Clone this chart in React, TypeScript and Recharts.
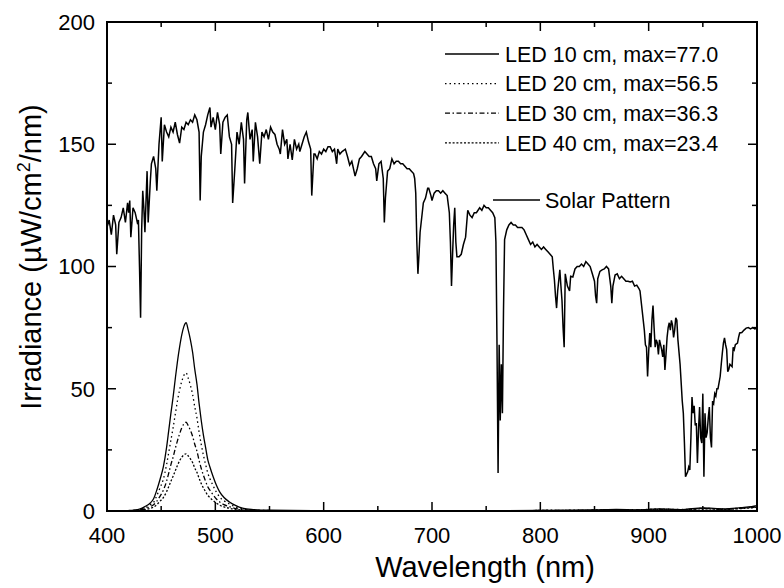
import { LineChart, Line, XAxis, YAxis } from "recharts";

// solar irradiance [wavelength nm, µW/cm²/nm]
const solarSpectrum: [number, number][] = [
  [400, 116], [402, 119], [404, 113], [406, 121], [408, 117], [409, 105], [411, 118], [413, 120], [415, 124], [417, 118],
  [419, 126], [420, 122], [421, 127], [422, 112], [424, 124], [426, 122], [428, 118], [429, 119], [430, 100], [431, 79],
  [432, 115], [433, 131], [434, 124], [435, 114], [437, 139], [438, 118], [440, 135], [441, 142], [443, 145], [445, 140],
  [446, 131], [448, 150], [450, 161], [451, 143], [453, 158], [455, 155], [457, 153], [459, 157], [461, 155], [463, 159],
  [465, 154], [467, 150.5], [469, 157], [471, 156], [473, 159], [475, 158], [477, 160], [479, 159], [481, 162], [483, 160],
  [485, 155], [486, 127], [487, 145], [489, 155], [491, 158], [493, 162], [495, 165], [496, 157], [498, 161], [500, 156],
  [502, 163], [504, 158], [505, 146], [507, 159], [509, 161], [511, 162], [513, 153], [515, 150], [516, 126], [518, 140],
  [520, 155], [522, 150], [524, 159], [526, 152], [527, 134], [529, 160], [530, 163], [532, 152], [534, 156], [535, 143],
  [537, 159], [539, 153], [541, 142], [543, 155], [545, 153], [547, 156], [549, 152], [551, 157], [553, 155], [555, 154],
  [557, 150], [559, 148], [560, 146], [562, 156], [564, 150], [566, 152], [567, 144], [569, 150], [571, 143.6], [573, 152],
  [575, 148], [577, 150], [578, 147], [580, 150], [582, 153], [584, 155], [586, 151], [588, 148], [589, 129], [591, 146],
  [592, 146], [594, 144], [596, 147], [598, 146], [600, 148], [602, 147], [604, 149], [606, 149], [608, 147], [610, 148],
  [612, 142], [613, 148], [615, 146], [617, 147], [620, 148], [622, 145], [624, 141.5], [626, 143], [628, 139], [629, 137],
  [631, 140], [633, 144], [635, 145], [638, 147], [640, 146], [642, 145], [644, 145], [646, 142], [648, 140], [649, 135],
  [651, 142], [653, 143], [655, 136], [656, 118], [657, 128], [659, 139], [661, 140], [663, 144], [665, 142], [667, 143],
  [669, 143], [671, 142], [673, 142], [675, 141], [677, 140], [679, 140], [681, 139], [683, 138], [684, 136], [685, 130],
  [686, 110], [687, 97], [688, 105], [689, 114], [691, 122], [692, 126], [694, 128], [696, 132], [697, 132], [699, 129],
  [700, 127], [702, 130], [704, 131], [706, 131], [708, 130], [710, 131], [712, 130], [714, 129], [716, 122], [717, 110],
  [718, 92], [719, 105], [720, 117], [721, 124], [722, 110], [723, 104], [725, 104], [727, 105], [729, 109], [731, 112],
  [733, 123], [735, 121], [737, 120], [739, 122], [741, 122], [744, 124], [746, 123], [748, 125], [750, 124], [752, 124],
  [754, 123], [756, 122], [758, 120], [759, 110], [760, 68], [761, 15.5], [762, 68], [763, 37], [764, 60], [765, 40],
  [766, 82], [767, 111], [769, 115], [771, 117], [773, 118], [775, 117], [777, 117], [779, 116], [781, 116], [783, 116],
  [785, 115], [787, 113], [789, 111], [791, 109], [793, 110], [795, 108], [797, 109], [799, 108], [801, 107], [803, 108],
  [805, 107], [807, 106], [809, 105], [811, 104], [812, 99], [813, 94.5], [814, 88], [815, 83], [816, 90], [818, 98.6],
  [819, 92], [820, 86], [821, 75], [822, 67], [823, 97], [825, 92], [827, 90], [828, 96], [830, 95.7], [832, 99],
  [834, 100], [836, 100], [838, 101], [840, 100], [842, 102], [844, 101], [846, 100], [848, 97], [850, 94], [851, 88],
  [852, 85], [853, 95], [855, 98], [857, 98.6], [859, 99], [861, 100], [863, 99], [865, 92], [866, 85], [867, 92],
  [869, 96.5], [871, 97], [873, 95], [875, 96], [877, 95], [879, 94], [881, 94], [883, 93.7], [885, 94], [887, 92],
  [889, 92.4], [891, 91], [892, 90], [894, 82], [896, 74], [897, 68], [898, 67], [899, 55], [900, 65], [901, 72.8],
  [902, 67], [903, 78], [904, 84], [905, 75], [906, 67], [907, 70], [908, 68.7], [909, 64], [910, 70], [912, 66],
  [913, 63], [914, 68], [915, 57.7], [916, 64], [917, 71], [918, 75], [919, 77], [920, 74], [921, 78], [922, 76],
  [923, 71], [924, 74], [925, 79], [926, 78], [927, 70], [929, 60], [931, 45], [932, 40], [933, 28], [934, 14],
  [936, 16], [937, 18], [938, 16.8], [939, 30], [940, 46.6], [941, 40], [942, 43], [943, 35], [944, 36], [945, 19.6],
  [946, 33], [947, 42.5], [948, 30], [949, 27.8], [950, 48], [951, 14], [952, 40], [953, 30], [954, 32], [955, 38],
  [956, 42.5], [957, 30], [958, 26], [959, 45], [960, 44], [961, 48], [962, 47], [963, 50], [964, 50], [966, 55],
  [967, 60], [968, 64.6], [969, 68.7], [970, 70.8], [971, 68], [972, 66], [973, 57], [974, 58], [975, 60], [977, 59],
  [978, 67], [979, 66], [980, 68], [982, 68.7], [983, 71], [984, 72.8], [986, 73], [988, 74], [990, 74.8], [992, 75],
  [994, 74.5], [996, 75], [998, 74.5], [1000, 74.8],
];

const ledWavelength = [
  420, 425, 430, 435, 440, 443, 446, 449, 452, 455, 457, 459, 461, 463, 465, 467, 469, 471, 473, 475,
  477, 479, 481, 483, 485, 487, 489, 491, 493, 495, 498, 501, 504, 508, 513, 519, 525, 535, 550, 600,
  700, 800, 850, 870, 890, 910, 930, 950, 970, 985, 995, 1000,
];
const led10 = [
  0.2, 0.4, 0.8, 1.8, 3.3, 5, 8.6, 13, 18, 26, 33, 40, 46.6, 54, 61, 67, 72, 75.5, 77, 74,
  70, 65, 58, 52, 44, 37, 31, 26, 21, 18, 14, 10.5, 7.8, 5.5, 3.7, 2.2, 1.2, 0.6, 0.3, 0.1,
  0.1, 0.2, 0.4, 0.7, 0.5, 0.9, 0.6, 1.3, 0.9, 1.4, 1.8, 2.2,
];
const led20 = [
  0.1, 0.3, 0.6, 1.3, 2.6, 3.5, 6.3, 9.5, 13, 19, 24, 29, 34, 39.5, 45, 49.5, 53, 55.5, 56.5, 54.3,
  51.4, 47.7, 42.6, 38.2, 32.3, 27.2, 22.8, 19.1, 15.6, 13.2, 10.3, 7.7, 5.7, 4.2, 2.9, 1.6, 0.9, 0.4, 0.2, 0.1,
  0.1, 0.2, 0.4, 0.6, 0.5, 0.8, 0.6, 1.1, 0.8, 1.2, 1.6, 2,
];
const led30 = [
  0.1, 0.2, 0.4, 0.9, 1.8, 2.6, 4, 6.1, 8.5, 12.2, 15.5, 19, 22, 25.5, 28.7, 31.5, 34, 35.6, 36.3, 34.9,
  33, 30.6, 27.3, 24.5, 20.7, 17.4, 14.6, 12.2, 9.9, 8.5, 6.6, 4.9, 3.7, 2.6, 1.8, 1, 0.6, 0.3, 0.1, 0.1,
  0.1, 0.2, 0.3, 0.5, 0.4, 0.7, 0.5, 1, 0.7, 1.1, 1.4, 1.8,
];
const led40 = [
  0.1, 0.1, 0.3, 0.6, 1.1, 1.6, 2.6, 4, 5.5, 7.9, 10, 12.2, 14.2, 16.4, 18.6, 20.5, 22, 23, 23.4, 22.5,
  21.3, 19.8, 17.6, 15.8, 13.4, 11.2, 9.4, 7.9, 6.4, 5.5, 4.3, 3.2, 2.4, 1.7, 1.1, 0.7, 0.4, 0.2, 0.1, 0.1,
  0.1, 0.2, 0.3, 0.4, 0.3, 0.6, 0.4, 0.9, 0.6, 1, 1.3, 1.6,
];

const ledNames = [
  "LED 10 cm, max=77.0",
  "LED 20 cm, max=56.5",
  "LED 30 cm, max=36.3",
  "LED 40 cm, max=23.4",
];

const xMajor = [400, 500, 600, 700, 800, 900, 1000];
const xMinor = [450, 550, 650, 750, 850, 950];
const yMajor = [0, 50, 100, 150, 200];
const yMinor = [25, 75, 125, 175];

const X_MIN = 400;
const X_MAX = 1000;
const Y_MIN = 0;
const Y_MAX = 200;

// plot box in page pixels (matches margin + axis sizes below)
const BOX = { left: 107, top: 22, right: 757, bottom: 511 };

const FONT = "'Liberation Sans', Arial, sans-serif";

const solarData = solarSpectrum.map(([wl, v]) => ({ wl, v }));
const ledData = ledWavelength.map((wl, i) => ({
  wl,
  l10: led10[i],
  l20: led20[i],
  l30: led30[i],
  l40: led40[i],
}));

const ledSeries = [
  { key: "l10", name: ledNames[0], dash: undefined },
  { key: "l20", name: ledNames[1], dash: "1.5 3" },
  { key: "l30", name: ledNames[2], dash: "5 2.5 1.5 2.5" },
  { key: "l40", name: ledNames[3], dash: "2 1.8" },
];

const MAJOR = 9;
const MINOR = 5;

const px = (v: number) => BOX.left + ((v - X_MIN) / (X_MAX - X_MIN)) * (BOX.right - BOX.left);
const py = (v: number) => BOX.bottom - ((v - Y_MIN) / (Y_MAX - Y_MIN)) * (BOX.bottom - BOX.top);

function BottomTick(props: any) {
  return (
    <text x={props.x} y={Number(props.y) + 32} textAnchor="middle" fontSize={22} fill="#000" fontFamily={FONT}>
      {props.payload.value}
    </text>
  );
}

function LeftTick(props: any) {
  return (
    <text x={Number(props.x) - 12} y={props.y} dy="0.36em" textAnchor="end" fontSize={22} fill="#000" fontFamily={FONT}>
      {props.payload.value}
    </text>
  );
}

// box, inward ticks, titles, legend and the "Solar Pattern" callout
function Overlay() {
  const xs = [...xMajor, ...xMinor];
  const ys = [...yMajor, ...yMinor];
  return (
    <svg
      width={784}
      height={588}
      style={{ position: "absolute", left: 0, top: 0, pointerEvents: "none" }}
      fontFamily={FONT}
    >
      <rect
        x={BOX.left}
        y={BOX.top}
        width={BOX.right - BOX.left}
        height={BOX.bottom - BOX.top}
        fill="none"
        stroke="#000"
        strokeWidth={2}
      />
      {xs.map((t) => {
        const len = xMajor.includes(t) ? MAJOR : MINOR;
        const x = px(t);
        return (
          <g key={`x${t}`}>
            <line x1={x} x2={x} y1={BOX.bottom} y2={BOX.bottom - len} stroke="#000" strokeWidth={1.5} />
            <line x1={x} x2={x} y1={BOX.top} y2={BOX.top + len} stroke="#000" strokeWidth={1.5} />
          </g>
        );
      })}
      {ys.map((t) => {
        const len = yMajor.includes(t) ? MAJOR : MINOR;
        const y = py(t);
        return (
          <g key={`y${t}`}>
            <line x1={BOX.left} x2={BOX.left + len} y1={y} y2={y} stroke="#000" strokeWidth={1.5} />
            <line x1={BOX.right} x2={BOX.right - len} y1={y} y2={y} stroke="#000" strokeWidth={1.5} />
          </g>
        );
      })}
      <text transform="translate(31, 257) rotate(-90)" textAnchor="middle" dy="0.36em" fontSize={29} fill="#000">
        Irradiance (µW/cm
        <tspan dy={-11} fontSize={18}>2</tspan>
        <tspan dy={11}>/nm)</tspan>
      </text>
      <text x={485} y={577} textAnchor="middle" fontSize={29} fill="#000">
        Wavelength (nm)
      </text>
      {ledSeries.map((s, i) => {
        const y = 54 + i * 29.6;
        return (
          <g key={s.key}>
            <line x1={445} x2={499} y1={y} y2={y} stroke="#000" strokeWidth={1.3} strokeDasharray={s.dash} />
            <text x={505} y={y} dy="0.36em" fontSize={21.5} fill="#000">
              {s.name}
            </text>
          </g>
        );
      })}
      <line x1={493} x2={540} y1={200} y2={200} stroke="#000" strokeWidth={1.3} />
      <text x={545} y={200} dy="0.36em" fontSize={21.5} fill="#000">
        Solar Pattern
      </text>
    </svg>
  );
}

const axisLine = { stroke: "#000", strokeWidth: 2 };

export default function App() {
  return (
    <div style={{ position: "absolute", left: 0, top: 0, width: 784, height: 588, background: "#fff" }}>
      <LineChart
        width={784}
        height={588}
        margin={{ top: BOX.top, right: 784 - BOX.right, bottom: 0, left: 0 }}
      >
        <XAxis
          dataKey="wl"
          type="number"
          domain={[X_MIN, X_MAX]}
          ticks={xMajor}
          interval={0}
          height={588 - BOX.bottom}
          tickSize={0}
          tickMargin={0}
          tickLine={false}
          axisLine={axisLine}
          tick={BottomTick}
        />
        <YAxis
          type="number"
          domain={[Y_MIN, Y_MAX]}
          ticks={yMajor}
          interval={0}
          width={BOX.left}
          tickSize={0}
          tickMargin={0}
          tickLine={false}
          axisLine={axisLine}
          tick={LeftTick}
        />
        <Line
          data={solarData}
          dataKey="v"
          type="linear"
          stroke="#000"
          strokeWidth={1.5}
          dot={false}
          activeDot={false}
          isAnimationActive={false}
        />
        {ledSeries.map((s) => (
          <Line
            key={s.key}
            data={ledData}
            dataKey={s.key}
            type="monotone"
            stroke="#000"
            strokeWidth={1.3}
            strokeDasharray={s.dash}
            dot={false}
            activeDot={false}
            isAnimationActive={false}
          />
        ))}
      </LineChart>
      <Overlay />
    </div>
  );
}
